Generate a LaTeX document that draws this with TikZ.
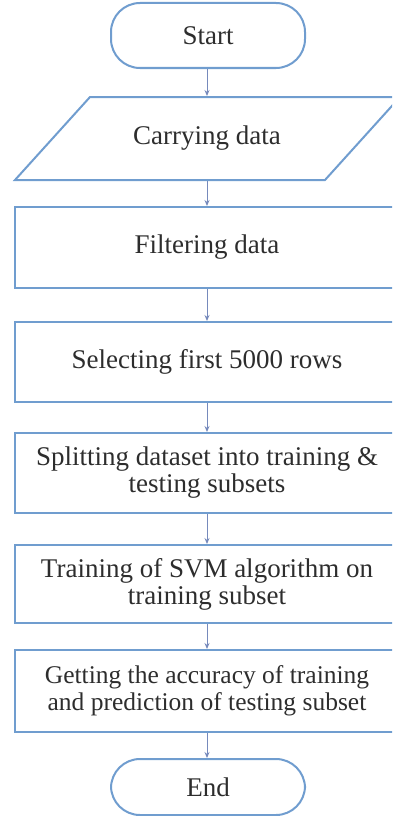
\documentclass[tikz,border=0pt]{standalone}
\usepackage{fontspec}
\setmainfont{Liberation Serif}
\usetikzlibrary{arrows.meta}
\definecolor{frameblue}{RGB}{112,157,207}
\definecolor{arrowblue}{RGB}{118,138,188}
\definecolor{inkgray}{RGB}{45,45,45}
\tikzset{
  stepbox/.style={draw=frameblue, line width=2pt, minimum width=384pt,
    minimum height=80pt, align=center, text=inkgray,
    font=\fontsize{27}{27}\selectfont},
  termbox/.style={stepbox, rounded corners=29pt, minimum width=194pt},
  flow/.style={draw=arrowblue, line width=0.9pt, -{Stealth[length=6pt,width=5pt]}}
}
\begin{document}
\begin{tikzpicture}[x=1pt,y=-1pt]
\useasboundingbox (0,0) rectangle (392,816);
\clip (0,0) rectangle (392,816);

\node[termbox, minimum height=65pt] (start) at (208,35.5) {Start};
% input: parallelogram drawn by hand, node only holds the text
\node[stepbox, draw=none, minimum height=83pt] (carry) at (207,138.5) {Carrying data};
\draw[draw=frameblue, line width=2pt] (15,180) -- (90,97) -- (400,97) -- (325,180) -- cycle;
\node[stepbox, minimum height=81pt] (filter) at (207,247.5) {Filtering data};
\node[stepbox] (select) at (207,362) {Selecting first 5000 rows};
\node[stepbox] (split) at (207,473) {Splitting dataset into training \&\\ testing subsets};
\node[stepbox, minimum height=78pt] (train) at (207,584) {Training of SVM algorithm on\\ training subset};
\node[stepbox, minimum height=82pt, font=\fontsize{25.5}{27}\selectfont] (acc) at (207,691) {Getting the accuracy of training\\ and prediction of testing subset};
\node[termbox, minimum height=56pt] (end) at (208,787) {End};

\draw[flow] (start.south -| carry) -- (carry.north);
\draw[flow] (carry.south) -- (filter.north);
\draw[flow] (filter.south) -- (select.north);
\draw[flow] (select.south) -- (split.north);
\draw[flow] (split.south) -- (train.north);
\draw[flow] (train.south) -- (acc.north);
\draw[flow] (acc.south) -- (end.north -| acc);
\end{tikzpicture}
\end{document}
